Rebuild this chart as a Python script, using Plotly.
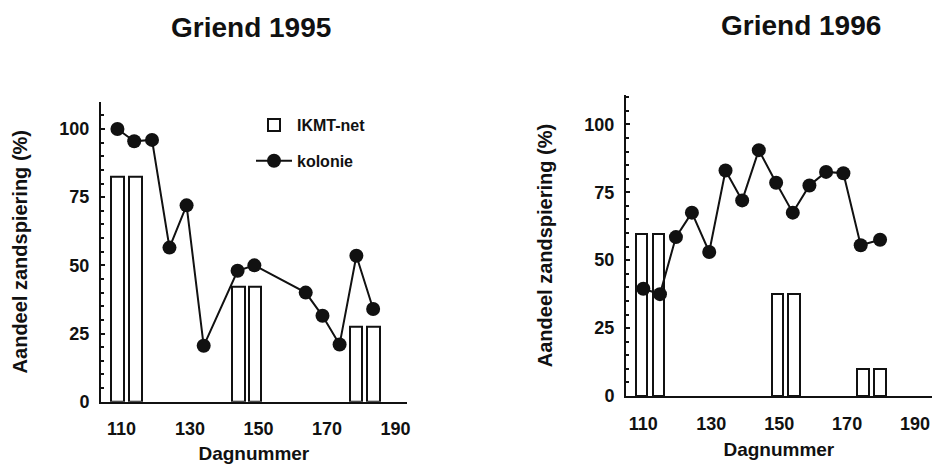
import plotly.graph_objects as go

# ---------------------------------------------------------------------------
# Data
# ---------------------------------------------------------------------------

# Griend 1995
kolonie_95_dag = [108.8, 113.7, 118.9, 124.0, 129.0, 134.0, 143.9, 148.8, 163.8, 168.7, 173.7, 178.6, 183.5]
kolonie_95_pct = [100, 95.5, 96, 56.5, 72, 20.5, 48, 50, 40, 31.5, 21, 53.5, 34]
ikmt_95_dag = [108.9, 114.0, 144.1, 149.0, 178.5, 183.6]
ikmt_95_pct = [82.5, 82.5, 42, 42, 27.5, 27.5]

# Griend 1996
kolonie_96_dag = [110.0, 114.9, 119.6, 124.3, 129.4, 134.2, 139.1, 144.0, 149.1, 154.0, 158.9, 163.8, 168.9, 174.0, 179.7]
kolonie_96_pct = [39.5, 37.5, 58.5, 67.5, 53, 83, 72, 90.5, 78.5, 67.5, 77.5, 82.5, 82, 55.5, 57.5]
ikmt_96_dag = [109.5, 114.5, 149.5, 154.4, 174.7, 179.7]
ikmt_96_pct = [59.5, 59.5, 37.5, 37.5, 10, 10]

x_ticks = [110, 130, 150, 170, 190]
y_ticks = [0, 25, 50, 75, 100]

FONT = "Liberation Sans, Arial, sans-serif"
BLACK = "#111111"

# full window; the page's body margin is removed in write_html below
W, H = 934, 464


def px_x(px):
    return px / W


def px_y(py):
    return (H - py) / H


fig = go.Figure()

fig.add_trace(go.Bar(
    x=ikmt_95_dag, y=ikmt_95_pct, width=3.7, name="IKMT-net",
    marker=dict(color="white", line=dict(color=BLACK, width=2)),
    legendgroup="ikmt", xaxis="x", yaxis="y",
))
fig.add_trace(go.Scatter(
    x=kolonie_95_dag, y=kolonie_95_pct, mode="lines+markers", name="kolonie",
    line=dict(color=BLACK, width=2), marker=dict(color=BLACK, size=14),
    legendgroup="kolonie", xaxis="x", yaxis="y",
))
fig.add_trace(go.Bar(
    x=ikmt_96_dag, y=ikmt_96_pct, width=3.4, name="IKMT-net", showlegend=False,
    marker=dict(color="white", line=dict(color=BLACK, width=2)),
    xaxis="x2", yaxis="y2",
))
fig.add_trace(go.Scatter(
    x=kolonie_96_dag, y=kolonie_96_pct, mode="lines+markers", name="kolonie", showlegend=False,
    line=dict(color=BLACK, width=2), marker=dict(color=BLACK, size=14),
    xaxis="x2", yaxis="y2",
))

tickfont = dict(family=FONT, size=18, color=BLACK, weight="bold")


def x_axis(domain, rng, anchor):
    return dict(
        domain=domain, range=rng, anchor=anchor, automargin=False,
        tickvals=x_ticks, ticks="", showgrid=False, zeroline=False,
        showline=True, linecolor=BLACK, linewidth=2,
        tickfont=tickfont, ticklabelstandoff=10, ticklabeloverflow="allow",
        title=dict(text="Dagnummer", font=dict(family=FONT, size=19, color=BLACK, weight="bold"), standoff=10),
    )


def y_axis(domain, rng, anchor):
    return dict(
        domain=domain, range=rng, anchor=anchor, automargin=False,
        tickvals=y_ticks, ticks="inside", ticklen=4, tickwidth=2, tickcolor=BLACK,
        minor=dict(dtick=5, ticks="inside", ticklen=3, tickwidth=1.5, tickcolor=BLACK),
        showgrid=False, zeroline=False,
        showline=True, linecolor=BLACK, linewidth=2,
        tickfont=tickfont, ticklabelstandoff=6,
        title=dict(text="Aandeel zandspiering (%)", font=dict(family=FONT, size=20, color=BLACK, weight="bold"),
                   standoff=26),
    )


fig.update_layout(
    width=W, height=H,
    margin=dict(l=0, r=0, t=0, b=0),
    paper_bgcolor="white", plot_bgcolor="white",
    bargap=0, barmode="overlay",
    xaxis=x_axis([px_x(101), px_x(406.7)], [104, 193.3], "y"),
    yaxis=y_axis([px_y(401.7), px_y(101.7)], [0, 110], "x"),
    xaxis2=x_axis([px_x(626), px_x(931.7)], [104.9, 194.9], "y2"),
    yaxis2=y_axis([px_y(396), px_y(95)], [0, 110.8], "x2"),
    legend=dict(
        x=px_x(251), y=px_y(108), xanchor="left", yanchor="top",
        font=dict(family=FONT, size=16, color=BLACK, weight="bold"),
        bgcolor="rgba(0,0,0,0)", traceorder="grouped", tracegroupgap=12,
        itemwidth=36,
    ),
    annotations=[
        dict(text="Griend 1995", x=px_x(251), y=px_y(27), xref="paper", yref="paper",
             xanchor="center", yanchor="middle", showarrow=False,
             font=dict(family=FONT, size=28, color=BLACK, weight="bold")),
        dict(text="Griend 1996", x=px_x(801), y=px_y(25), xref="paper", yref="paper",
             xanchor="center", yanchor="middle", showarrow=False,
             font=dict(family=FONT, size=28, color=BLACK, weight="bold")),
    ],
)

fig.write_html(
    "out.html",
    config={"displayModeBar": False},
    post_script="document.body.style.margin='0';document.body.style.overflow='hidden';",
)
